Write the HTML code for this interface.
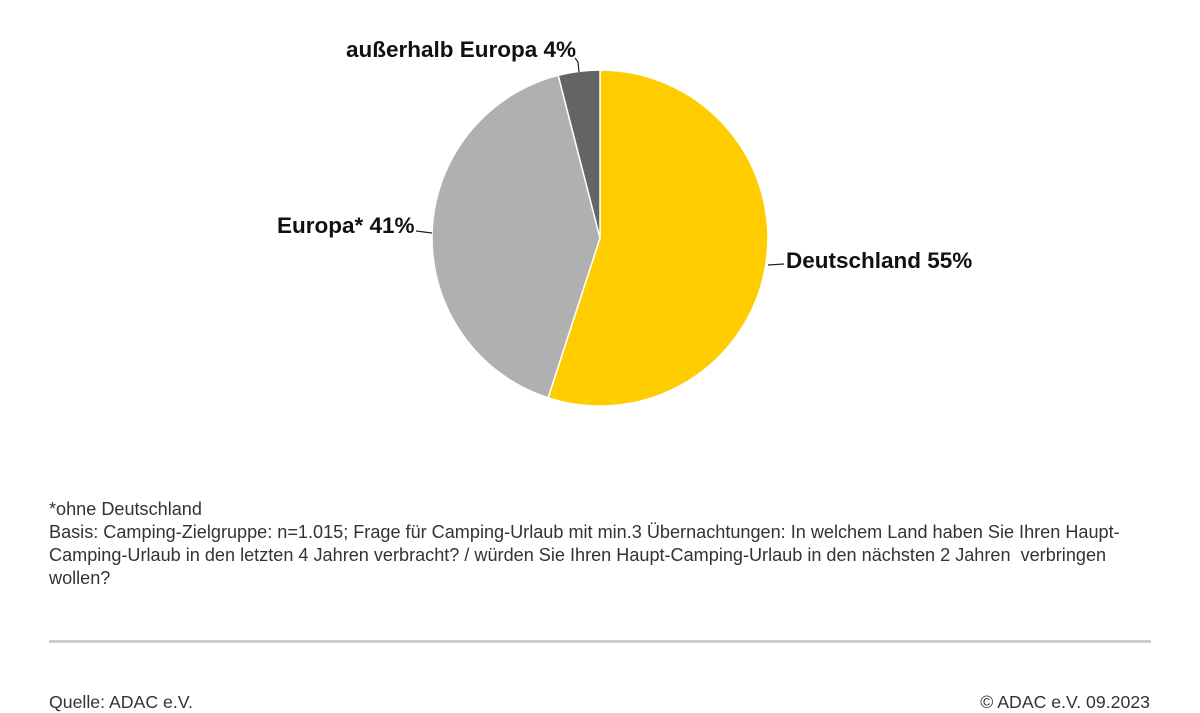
<!DOCTYPE html>
<html><head><meta charset="utf-8"><style>
body{margin:0;width:1200px;height:700px;overflow:hidden;background:#fff;font-family:"Liberation Sans",sans-serif;position:relative}
.n{position:absolute;left:49px;font-size:18.1px;color:#333;line-height:23px;letter-spacing:0px;white-space:nowrap}
.f{position:absolute;top:692px;font-size:17.7px;color:#333}
</style></head><body>
<svg width="1200" height="480" style="position:absolute;left:0;top:0">
<g stroke="#fff" stroke-width="1.5">
<path d="M600,238 L600,70 A168,168 0 1 1 548.1,397.8 Z" fill="#FFCC00"/>
<path d="M600,238 L548.1,397.8 A168,168 0 0 1 558.2,75.3 Z" fill="#B0B0B0"/>
<path d="M600,238 L558.2,75.3 A168,168 0 0 1 600,70 Z" fill="#646464"/>
</g>
<g stroke="#222" stroke-width="1.2" fill="none">
<polyline points="575,58 578,62 579,72"/>
<polyline points="416,231 432,233"/>
<polyline points="768,265 784,264"/>
</g>
<g font-family="Liberation Sans,sans-serif" font-weight="bold" font-size="22.5" fill="#111">
<text x="346" y="57">außerhalb Europa 4%</text>
<text x="277" y="233">Europa* 41%</text>
<text x="786" y="268">Deutschland 55%</text>
</g>
</svg>
<div class="n" style="top:498px">*ohne Deutschland<br>Basis: Camping-Zielgruppe: n=1.015; Frage für Camping-Urlaub mit min.3 Übernachtungen: In welchem Land haben Sie Ihren Haupt-<br>Camping-Urlaub in den letzten 4 Jahren verbracht? / würden Sie Ihren Haupt-Camping-Urlaub in den nächsten 2 Jahren&nbsp; verbringen<br>wollen?</div>
<div style="position:absolute;left:49px;top:640px;width:1102px;height:3px;background:#ccc"></div>
<div class="f" style="left:49px">Quelle: ADAC e.V.</div>
<div class="f" style="right:50px">© ADAC e.V. 09.2023</div>
</body></html>
